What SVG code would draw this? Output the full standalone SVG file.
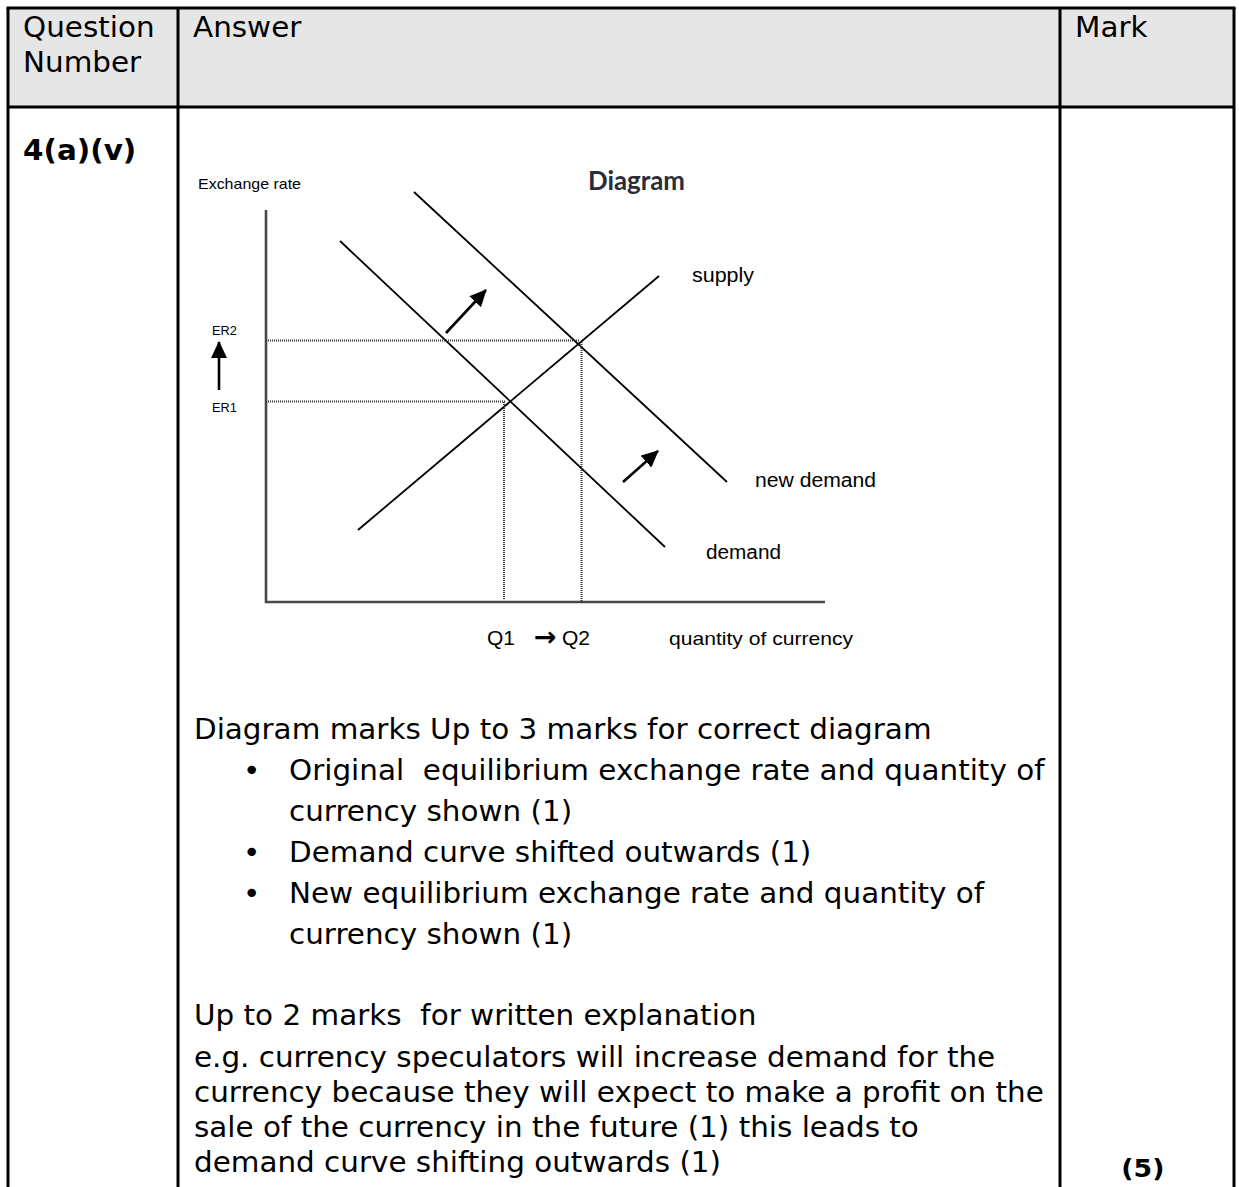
<svg xmlns="http://www.w3.org/2000/svg" width="1239" height="1187" viewBox="0 0 1239 1187">
<style>
.body{font-family:"DejaVu Sans","Verdana",sans-serif;font-size:27.5px;fill:#000}
.bold{font-family:"DejaVu Sans","Verdana",sans-serif;font-weight:bold;fill:#000}
.lbl{font-family:"Liberation Sans","Arial",sans-serif;fill:#000}
.grid{stroke:#000;stroke-width:3;fill:none}
.curve{stroke:#000;stroke-width:1.8;fill:none}
.axis{stroke:#4a4a4a;stroke-width:2.6;fill:none}
.dot{stroke:#333;stroke-width:2;stroke-dasharray:1 1;fill:none}
.arr{stroke:#000;stroke-width:2.6;fill:none}
</style>
<defs>
<marker id="ah" markerUnits="userSpaceOnUse" markerWidth="18" markerHeight="16" refX="16" refY="8" orient="auto">
<path d="M0,0 L17,8 L0,16 Z" fill="#000"/>
</marker>
</defs>
<rect x="0" y="0" width="1239" height="1187" fill="#fff"/>
<g id="table">
<rect x="8" y="8" width="1226" height="99" fill="#e6e6e6"/>
<line class="grid" x1="6.5" y1="8" x2="1235.5" y2="8"/>
<line class="grid" x1="8" y1="8" x2="8" y2="1187"/>
<line class="grid" x1="1234" y1="8" x2="1234" y2="1187"/>
<line class="grid" x1="8" y1="107" x2="1234" y2="107"/>
<line class="grid" x1="178" y1="8" x2="178" y2="1187"/>
<line class="grid" x1="1060" y1="8" x2="1060" y2="1187"/>
</g>
<g id="header" transform="scale(1.07 1)">
<text class="body" x="21.5" y="37">Question</text>
<text class="body" x="21.5" y="72">Number</text>
<text class="body" x="180.4" y="37">Answer</text>
<text class="body" x="1004.7" y="37">Mark</text>
<text class="bold" x="21.5" y="160" font-size="27.5">4(a)(v)</text>
<text class="bold" x="1048" y="1177" font-size="25">(5)</text>
</g>
<g id="graph">
<text x="588" y="190" font-family="Lato,'Open Sans',sans-serif" font-weight="bold" font-size="26" fill="#2a2d38" textLength="97" lengthAdjust="spacingAndGlyphs">Diagram</text>
<text class="lbl" x="198" y="189" font-size="15" textLength="103" lengthAdjust="spacingAndGlyphs">Exchange rate</text>
<text class="lbl" x="212" y="335" font-size="12.5" textLength="25" lengthAdjust="spacingAndGlyphs">ER2</text>
<text class="lbl" x="212" y="411.5" font-size="12.5" textLength="25" lengthAdjust="spacingAndGlyphs">ER1</text>
<text class="lbl" x="692" y="282" font-size="19.5" textLength="62" lengthAdjust="spacingAndGlyphs">supply</text>
<text class="lbl" x="755" y="487" font-size="19.5" textLength="121" lengthAdjust="spacingAndGlyphs">new demand</text>
<text class="lbl" x="706" y="559" font-size="19.5" textLength="75" lengthAdjust="spacingAndGlyphs">demand</text>
<text class="lbl" x="487" y="645" font-size="21">Q1<tspan x="534" y="646" font-family="'DejaVu Sans',sans-serif" font-weight="bold" font-size="27">→</tspan><tspan x="562" y="645">Q2</tspan></text>
<text class="lbl" x="669" y="645" font-size="18.5" textLength="184" lengthAdjust="spacingAndGlyphs">quantity of currency</text>
</g>
<g id="connectors">
<polyline class="axis" points="266,210 266,602 825,602"/>
<line class="curve" x1="340" y1="241" x2="665" y2="547"/>
<line class="curve" x1="414" y1="192" x2="727" y2="482"/>
<line class="curve" x1="358" y1="530" x2="659" y2="276"/>
<line class="dot" x1="266" y1="401.5" x2="506" y2="401.5"/>
<line class="dot" x1="504" y1="402" x2="504" y2="599"/>
<line class="dot" x1="266" y1="340.5" x2="580" y2="340.5"/>
<line class="dot" x1="581.5" y1="342" x2="581.5" y2="603"/>
<line class="arr" x1="446" y1="333" x2="486" y2="290" marker-end="url(#ah)"/>
<line class="arr" x1="623" y1="482" x2="658" y2="451" marker-end="url(#ah)"/>
<line class="arr" x1="219" y1="390" x2="219" y2="342" marker-end="url(#ah)"/>
</g>
<g id="answer" transform="scale(1.07 1)">
<text class="body" x="181.3" y="739">Diagram marks Up to 3 marks for correct diagram</text>
<text class="body" x="227" y="780">•</text>
<text class="body" x="270.1" y="780" xml:space="preserve">Original  equilibrium exchange rate and quantity of</text>
<text class="body" x="270.1" y="821">currency shown (1)</text>
<text class="body" x="227" y="862">•</text>
<text class="body" x="270.1" y="862">Demand curve shifted outwards (1)</text>
<text class="body" x="227" y="903">•</text>
<text class="body" x="270.1" y="903">New equilibrium exchange rate and quantity of</text>
<text class="body" x="270.1" y="944">currency shown (1)</text>
<text class="body" x="181.3" y="1025" xml:space="preserve">Up to 2 marks  for written explanation</text>
<text class="body" x="181.3" y="1067">e.g. currency speculators will increase demand for the</text>
<text class="body" x="181.3" y="1102">currency because they will expect to make a profit on the</text>
<text class="body" x="181.3" y="1137">sale of the currency in the future (1) this leads to</text>
<text class="body" x="181.3" y="1172">demand curve shifting outwards (1)</text>
</g>
</svg>
